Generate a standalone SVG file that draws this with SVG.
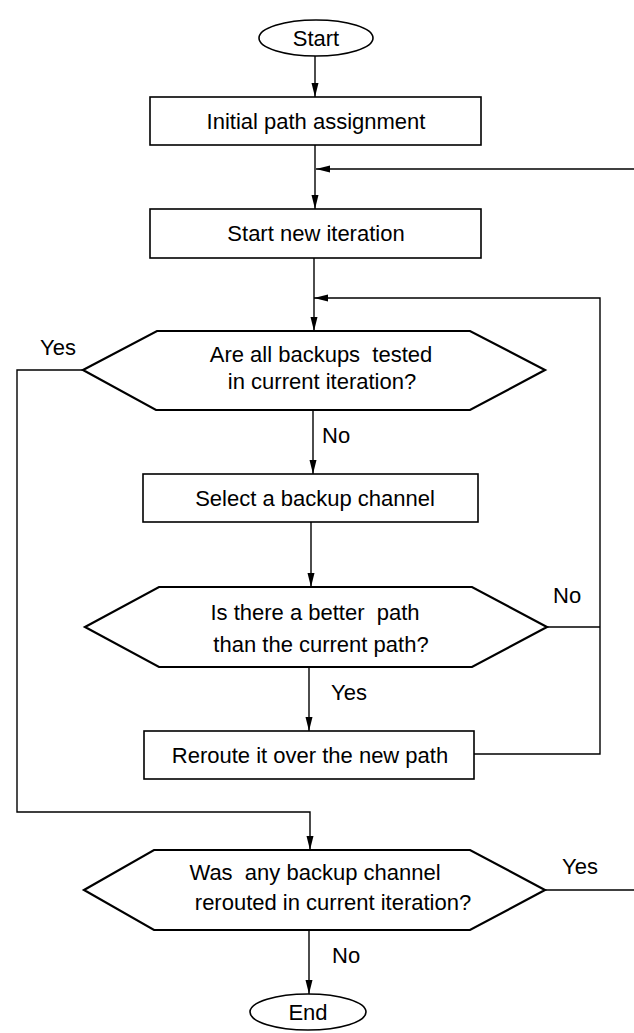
<svg xmlns="http://www.w3.org/2000/svg" width="634" height="1033" viewBox="0 0 634 1033">
<style>
.t{font-family:"Liberation Sans",Arial,sans-serif;font-size:22px;fill:#000}
.m{text-anchor:middle}
.box{fill:#fff;stroke:#000;stroke-width:1.6}
.dia{fill:#fff;stroke:#000;stroke-width:2.2;stroke-linejoin:miter}
.ell{fill:#fff;stroke:#000;stroke-width:1.6}
.c{fill:none;stroke:#000;stroke-width:1.4}
.a{marker-end:url(#ah)}
</style>
<defs>
<marker id="ah" viewBox="0 0 14 8" refX="14" refY="4" markerWidth="14" markerHeight="8" markerUnits="userSpaceOnUse" orient="auto">
<path d="M0,0.5 L14,4 L0,7.5 Z" fill="#000"/>
</marker>
</defs>
<rect width="634" height="1033" fill="#fff"/>
<g id="connectors">
<path class="c a" d="M315 56 V97"/>
<path class="c a" d="M315 145 V209"/>
<path class="c a" d="M634 169 H316"/>
<path class="c a" d="M314 258 V331"/>
<path class="c a" d="M474 754 H600 V298 H314"/>
<path class="c a" d="M83 370 H17 V812 H310 V850"/>
<path class="c a" d="M313 410 V474"/>
<path class="c a" d="M311 522 V587"/>
<path class="c" d="M547 627 H600"/>
<path class="c a" d="M309 667 V731"/>
<path class="c" d="M545 890 H634"/>
<path class="c a" d="M309 930 V994"/>
</g>
<g id="start">
<ellipse class="ell" cx="316" cy="38" rx="57" ry="18"/>
<text class="t m" x="316" y="46">Start</text>
</g>
<g id="initial">
<rect class="box" x="150" y="97" width="331" height="48"/>
<text class="t m" x="316" y="129">Initial path assignment</text>
</g>
<g id="newiter">
<rect class="box" x="150" y="209" width="331" height="49"/>
<text class="t m" x="316" y="241">Start new iteration</text>
</g>
<g id="alltested">
<polygon class="dia" points="83,370 157,331 470,331 545,370 470,410 156,410"/>
<text class="t m" x="321" y="362" xml:space="preserve">Are all backups  tested</text>
<text class="t m" x="322" y="389">in current iteration?</text>
</g>
<g id="select">
<rect class="box" x="143" y="474" width="335" height="48"/>
<text class="t m" x="315" y="506">Select a backup channel</text>
</g>
<g id="better">
<polygon class="dia" points="85,627 159,587 472,587 547,627 472,667 159,667"/>
<text class="t m" x="315" y="620" xml:space="preserve">Is there a better  path</text>
<text class="t m" x="321" y="652">than the current path?</text>
</g>
<g id="reroute">
<rect class="box" x="144" y="731" width="330" height="48"/>
<text class="t m" x="310" y="763">Reroute it over the new path</text>
</g>
<g id="anyrerouted">
<polygon class="dia" points="84,890 154,850 470,850 545,890 470,930 154,930"/>
<text class="t m" x="315" y="880" xml:space="preserve">Was  any backup channel</text>
<text class="t m" x="333" y="910">rerouted in current iteration?</text>
</g>
<g id="end">
<ellipse class="ell" cx="308" cy="1012" rx="58" ry="18"/>
<text class="t m" x="308" y="1020">End</text>
</g>
<g id="labels">
<text class="t" x="40" y="355">Yes</text>
<text class="t" x="322" y="443">No</text>
<text class="t" x="553" y="603">No</text>
<text class="t" x="331" y="700">Yes</text>
<text class="t" x="562" y="874">Yes</text>
<text class="t" x="332" y="963">No</text>
</g>
</svg>
